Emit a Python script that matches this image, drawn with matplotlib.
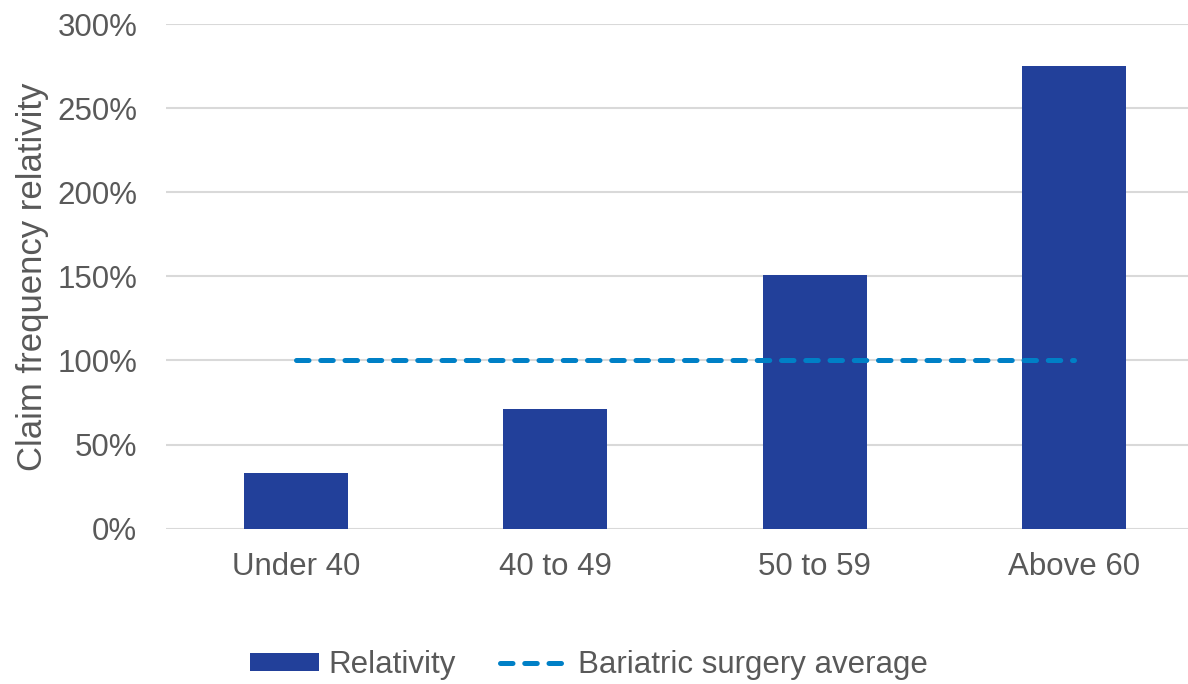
import matplotlib
matplotlib.use("Agg")
import matplotlib.pyplot as plt
from matplotlib.ticker import FuncFormatter

categories = ["Under 40", "40 to 49", "50 to 59", "Above 60"]
relativity = [33, 71, 151, 275]
surgery_average = [100, 100, 100, 100]
y_ticks = [0, 50, 100, 150, 200, 250, 300]

bar_color = "#22409A"
line_color = "#0080C6"
text_color = "#595959"
grid_color = "#D9D9D9"

plt.rcParams["font.family"] = ["Liberation Sans", "DejaVu Sans"]

fig = plt.figure(figsize=(11.88, 6.84), dpi=100)
ax = fig.add_axes([166.4 / 1188, 1 - 528.7 / 684, (1203.6 - 166.4) / 1188, (528.7 - 24) / 684])

x = list(range(len(categories)))
bars = ax.bar(x, relativity, width=0.4, color=bar_color, zorder=2, label="Relativity")
line, = ax.plot(x, surgery_average, color=line_color, lw=3.6, linestyle=(0, (2.5, 2.35)),
                dash_capstyle="round", zorder=3, label="Bariatric surgery average")

ax.set_xlim(-0.5, 3.5)
ax.set_ylim(0, 300)
ax.set_yticks(y_ticks)
ax.yaxis.set_major_formatter(FuncFormatter(lambda v, p: f"{v:.0f}%"))
ax.set_xticks(x)
ax.set_xticklabels(categories)
ax.grid(axis="y", color=grid_color, lw=1.5, zorder=0)
ax.set_axisbelow(True)
for s in ax.spines.values():
    s.set_visible(False)
ax.tick_params(axis="both", length=0, labelsize=22.5, colors=text_color)
ax.tick_params(axis="y", pad=21)
ax.tick_params(axis="x", pad=17)
ax.set_ylabel("Claim frequency relativity", fontsize=25, color=text_color, labelpad=6)

fig.legend(handles=[bars, line], loc="center", bbox_to_anchor=(589 / 1188, 1 - 665 / 684),
           ncol=2, frameon=False, fontsize=22.5, labelcolor=text_color,
           handlelength=2.2, handleheight=0.5, handletextpad=0.3, columnspacing=1.4)

fig.savefig("out.png", dpi=100)
